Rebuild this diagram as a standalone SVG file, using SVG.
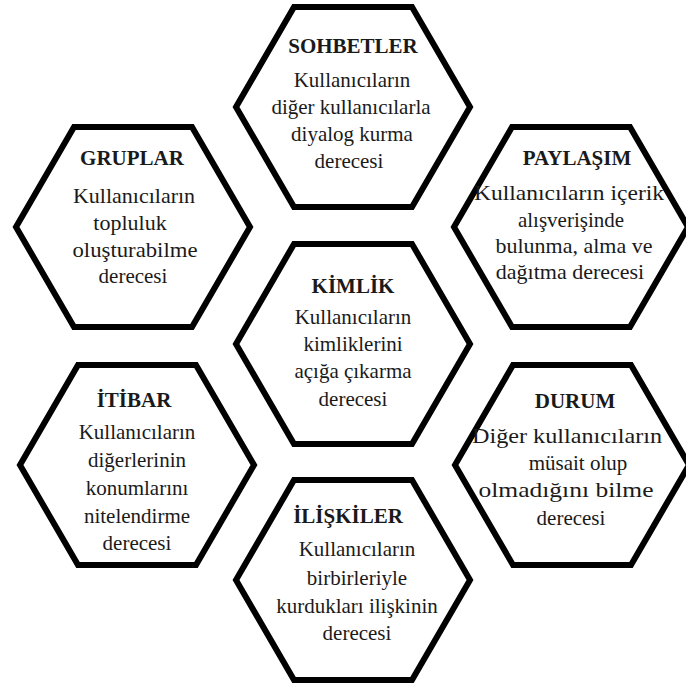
<svg xmlns="http://www.w3.org/2000/svg" xmlns:xlink="http://www.w3.org/1999/xlink" width="686" height="685" viewBox="0 0 686 685">
<style>
.hex{fill:#fff;stroke:#000;stroke-width:6;stroke-linejoin:miter}
text{font-family:'Liberation Serif','Times New Roman',serif;font-size:21px;fill:#1a1a1a;text-anchor:middle}
.t{font-weight:bold}
.b22{font-size:22px}
</style>
<defs>
<polygon id="hx" class="hex" points="-59,-100 59,-100 117,0 59,100 -59,100 -117,0"/>
</defs>
<rect width="686" height="685" fill="#fff"/>
<g id="connectors"/>
<g font-family="Liberation Serif, serif">
<g id="sohbetler">
<use xlink:href="#hx" href="#hx" x="353" y="107"/>
<text class="t" x="353" y="53">SOHBETLER</text>
<text x="352" y="87">Kullanıcıların</text>
<text x="351" y="114">diğer kullanıcılarla</text>
<text x="352" y="141">diyalog kurma</text>
<text x="349" y="168">derecesi</text>
</g>
<g id="gruplar">
<use xlink:href="#hx" href="#hx" x="133" y="227"/>
<text class="t" x="132" y="165">GRUPLAR</text>
<text class="b22" x="134" y="203">Kullanıcıların</text>
<text class="b22" x="130" y="230">topluluk</text>
<text class="b22" x="135" y="257" textLength="125" lengthAdjust="spacingAndGlyphs">oluşturabilme</text>
<text x="133" y="283">derecesi</text>
</g>
<g id="paylasim">
<use xlink:href="#hx" href="#hx" x="571" y="227"/>
<text class="t" x="577" y="165">PAYLAŞIM</text>
<text class="b22" x="569" y="200" textLength="190" lengthAdjust="spacingAndGlyphs">Kullanıcıların içerik</text>
<text x="571" y="227">alışverişinde</text>
<text class="b22" x="574" y="253">bulunma, alma ve</text>
<text class="b22" x="570" y="279">dağıtma derecesi</text>
</g>
<g id="kimlik">
<use xlink:href="#hx" href="#hx" x="353" y="344"/>
<text class="t" x="353" y="293">KİMLİK</text>
<text x="353" y="324">Kullanıcıların</text>
<text x="353" y="351">kimliklerini</text>
<text x="353" y="378">açığa çıkarma</text>
<text x="353" y="406">derecesi</text>
</g>
<g id="itibar">
<use xlink:href="#hx" href="#hx" x="137" y="465"/>
<text class="t" x="134" y="407">İTİBAR</text>
<text x="137" y="439">Kullanıcıların</text>
<text x="137" y="467">diğerlerinin</text>
<text x="137" y="495">konumlarını</text>
<text x="137" y="523">nitelendirme</text>
<text x="137" y="550">derecesi</text>
</g>
<g id="durum">
<use xlink:href="#hx" href="#hx" x="572" y="465"/>
<text class="t" x="575" y="408">DURUM</text>
<text class="b22" x="567" y="443" textLength="190" lengthAdjust="spacingAndGlyphs">Diğer kullanıcıların</text>
<text x="578" y="470">müsait olup</text>
<text class="b22" x="566" y="497" textLength="175" lengthAdjust="spacingAndGlyphs">olmadığını bilme</text>
<text x="571" y="525">derecesi</text>
</g>
<g id="iliskiler">
<use xlink:href="#hx" href="#hx" x="353" y="580"/>
<text class="t" x="348" y="523">İLİŞKİLER</text>
<text x="357" y="556">Kullanıcıların</text>
<text x="357" y="585">birbirleriyle</text>
<text x="357" y="613">kurdukları ilişkinin</text>
<text x="357" y="640">derecesi</text>
</g>
</g>
</svg>
